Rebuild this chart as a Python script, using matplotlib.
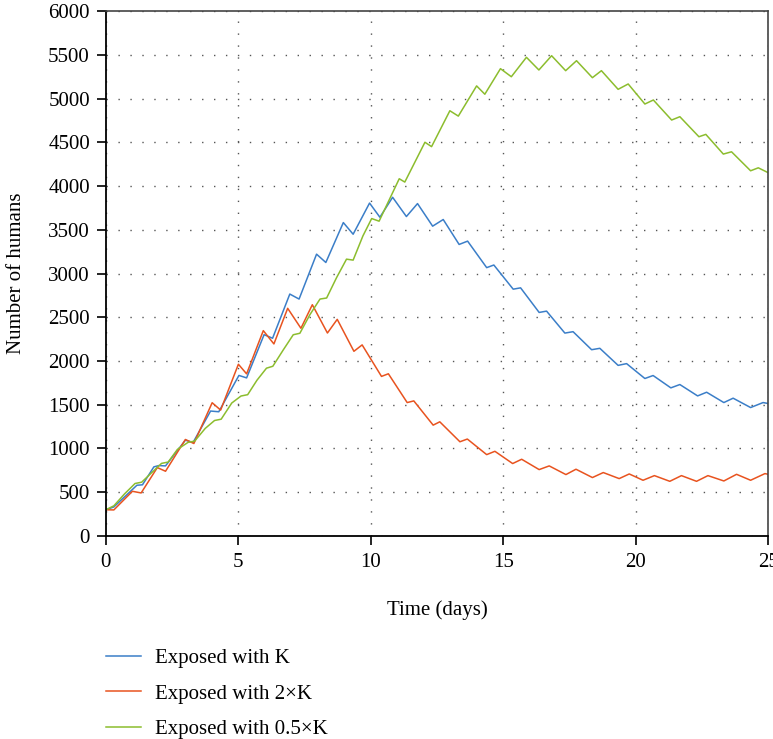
import matplotlib
matplotlib.use('Agg')
import matplotlib.pyplot as plt

# Values (peaks / troughs of the daily oscillation)
t_blue = [0.0, 0.3, 1.17, 1.38, 1.81, 2.0, 2.25, 3.0, 3.29, 3.95, 4.26, 5.02, 5.31,
          5.97, 6.29, 6.94, 7.29, 7.95, 8.30, 8.96, 9.33, 9.95, 10.34, 10.82, 11.34,
          11.76, 12.33, 12.73, 13.33, 13.65, 14.37, 14.64, 15.37, 15.65, 16.35, 16.63,
          17.32, 17.63, 18.33, 18.64, 19.33, 19.65, 20.34, 20.65, 21.32, 21.66, 22.33,
          22.67, 23.32, 23.67, 24.33, 24.8, 25.0]
blue = [300, 332, 580, 585, 790, 805, 801, 1095, 1069, 1428, 1420, 1835, 1807,
        2301, 2260, 2765, 2708, 3221, 3126, 3582, 3449, 3805, 3643, 3871, 3651,
        3799, 3541, 3617, 3332, 3370, 3067, 3097, 2821, 2836, 2555, 2570,
        2319, 2335, 2129, 2145, 1950, 1970, 1800, 1834, 1693, 1731, 1601,
        1643, 1525, 1575, 1468, 1525, 1514]

t_red = [0.0, 0.3, 1.0, 1.33, 1.94, 2.25, 3.0, 3.32, 4.01, 4.33, 5.0, 5.31, 5.94,
         6.34, 6.86, 7.36, 7.79, 8.36, 8.73, 9.36, 9.67, 10.4, 10.66, 11.37, 11.62,
         12.35, 12.6, 13.36, 13.64, 14.37, 14.68, 15.35, 15.69, 16.35, 16.73, 17.36,
         17.74, 18.36, 18.77, 19.37, 19.75, 20.27, 20.7, 21.28, 21.72, 22.29, 22.72,
         23.32, 23.8, 24.33, 24.87, 25.0]
red = [300, 298, 511, 492, 782, 740, 1103, 1057, 1523, 1439, 1963, 1853, 2347,
       2195, 2602, 2374, 2643, 2320, 2476, 2111, 2184, 1824, 1854, 1525, 1544,
       1267, 1305, 1077, 1108, 930, 968, 828, 877, 759, 801, 702,
       763, 668, 725, 656, 709, 637, 690, 625, 690, 625, 690,
       629, 705, 637, 713, 705]

t_green = [0.0, 0.3, 0.7, 1.1, 1.35, 1.75, 2.1, 2.35, 2.7, 3.1, 3.35, 3.75, 4.1, 4.35,
           4.75, 5.1, 5.35, 5.7, 6.06, 6.3, 6.7, 7.07, 7.32, 7.7, 8.08, 8.33, 8.7,
           9.08, 9.33, 9.7, 10.03, 10.31, 11.07, 11.28, 12.04, 12.29, 12.98, 13.3,
           13.99, 14.3, 14.89, 15.3, 15.87, 16.34, 16.82, 17.35, 17.76, 18.36, 18.7,
           19.33, 19.71, 20.34, 20.66, 21.35, 21.66, 22.38, 22.64, 23.3, 23.61, 24.33,
           24.62, 25.0]
green = [300, 345, 480, 600, 615, 730, 830, 845, 990, 1070, 1085, 1230, 1320, 1335,
         1520, 1600, 1615, 1780, 1918, 1940, 2130, 2300, 2317, 2530, 2708, 2720, 2950,
         3164, 3153, 3430, 3628, 3598, 4083, 4045, 4500, 4450, 4860, 4799,
         5144, 5049, 5341, 5249, 5471, 5326, 5489, 5318, 5432, 5238, 5318,
         5105, 5166, 4937, 4983, 4754, 4792, 4563, 4590, 4365, 4391, 4174,
         4208, 4151]

labels = ['Exposed with K', 'Exposed with 2\u00d7K', 'Exposed with 0.5\u00d7K']
colors = ['#3b7ec8', '#e8531f', '#8cbd2e']

plt.rcParams['font.family'] = ['Liberation Serif', 'DejaVu Serif']

fig = plt.figure(figsize=(7.73, 7.39), dpi=100)
ax = fig.add_axes([0.137, 0.2747, 0.857, 0.7104])

ax.plot(t_blue, blue, color=colors[0], lw=1.1, label=labels[0], solid_joinstyle='round')
ax.plot(t_red, red, color=colors[1], lw=1.1, label=labels[1], solid_joinstyle='round')
ax.plot(t_green, green, color=colors[2], lw=1.1, label=labels[2], solid_joinstyle='round')

ax.set_xlim(0, 25)
ax.set_ylim(0, 6000)
ax.set_xticks(range(0, 26, 5))
ax.set_yticks(range(0, 6001, 500))
ax.tick_params(direction='out', length=6.5, width=1.2, labelsize=15)
ax.tick_params(axis='y', pad=5)
ax.tick_params(axis='x', pad=6)
ax.grid(True, color='#555555', linestyle=(0, (1, 7.6)), linewidth=1.0)

for s in ['left', 'bottom']:
    ax.spines[s].set_color('black')
    ax.spines[s].set_linewidth(1.3)
for s in ['top', 'right']:
    ax.spines[s].set_color('#444444')
    ax.spines[s].set_linewidth(1.2)

ax.set_xlabel('Time (days)', fontsize=15, labelpad=20)
ax.set_ylabel('Number of humans', fontsize=15, labelpad=16)

fig.legend(loc='upper left', bbox_to_anchor=(0.137, 0.122), frameon=False,
           fontsize=15, handlelength=1.7, handletextpad=0.64, labelspacing=0.75,
           borderaxespad=0, borderpad=0)

fig.savefig('out.png', dpi=100)
